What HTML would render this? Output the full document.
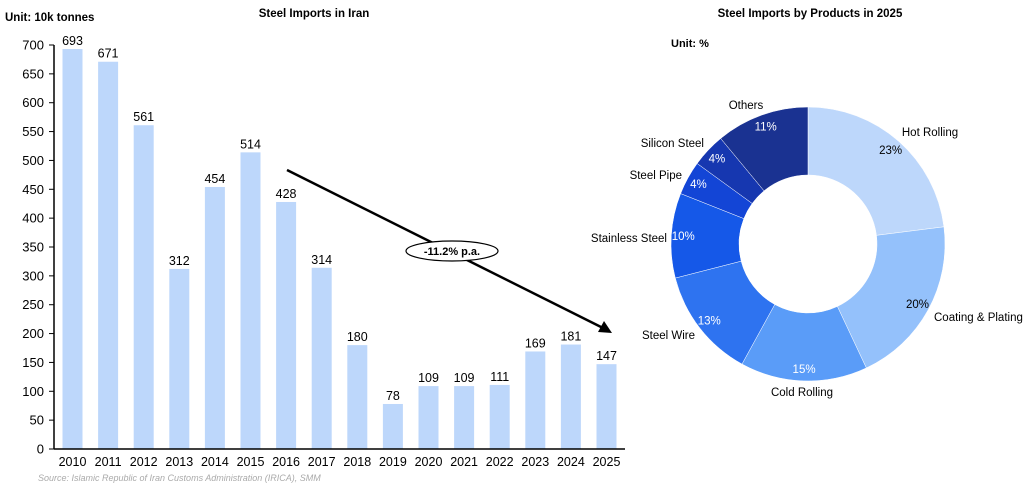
<!DOCTYPE html><html><head><meta charset="utf-8"><style>
body{margin:0;background:#fff;width:1024px;height:487px;overflow:hidden;font-family:"Liberation Sans",Arial,sans-serif}
text{font-family:"Liberation Sans",Arial,sans-serif}
</style></head><body>
<svg id="s" width="1024" height="487" viewBox="0 0 1024 487" xmlns="http://www.w3.org/2000/svg">
<text x="5" y="21" font-size="11.5" font-weight="bold" fill="#000">Unit: 10k tonnes</text>
<text x="314" y="17" font-size="11.5" font-weight="bold" text-anchor="middle">Steel Imports in Iran</text>
<text x="810" y="17" font-size="11.5" font-weight="bold" text-anchor="middle">Steel Imports by Products in 2025</text>
<text x="671" y="47" font-size="11" font-weight="bold">Unit: %</text>
<g id="bars"></g>
<line x1="54" y1="45" x2="54" y2="449" stroke="#000" stroke-width="1.5"/>
<line x1="54" y1="449" x2="625" y2="449" stroke="#000" stroke-width="1.5"/>
<line x1="287" y1="170" x2="603" y2="328" stroke="#000" stroke-width="2.5"/>
<polygon points="612,333 598,332 604,321" fill="#000"/>
<ellipse cx="452" cy="251" rx="46" ry="10" fill="#fff" stroke="#000" stroke-width="1.2"/>
<text x="452" y="255" font-size="11" font-weight="bold" text-anchor="middle">-11.2% p.a.</text>
<text x="38" y="481" font-size="9" font-style="italic" fill="#aaa">Source: Islamic Republic of Iran Customs Administration (IRICA), SMM</text>
<g id="pie"></g>
</svg>
<script>
var ns="http://www.w3.org/2000/svg";
function el(p,t,a,txt){var e=document.createElementNS(ns,t);for(var k in a)e.setAttribute(k,a[k]);if(txt!==undefined)e.textContent=txt;p.appendChild(e);return e;}
var b=document.getElementById('bars');
var v=[693,671,561,312,454,514,428,314,180,78,109,109,111,169,181,147];
function Y(x){return 449-x*404/700;}
for(var i=0;i<=14;i++){var val=i*50,y=Y(val);el(b,'line',{x1:49,y1:y,x2:54,y2:y,stroke:'#000'});el(b,'text',{x:44,y:y+4.5,'font-size':13,'text-anchor':'end'},val);}
for(var i=0;i<16;i++){var cx=72.5+35.6*i;el(b,'rect',{x:cx-10,y:Y(v[i]),width:20,height:449-Y(v[i]),fill:'#bdd7fb'});
el(b,'text',{x:cx,y:Y(v[i])-4,'font-size':12.5,'text-anchor':'middle'},v[i]);
el(b,'text',{x:cx,y:466,'font-size':12.5,'text-anchor':'middle'},2010+i);}
var p=document.getElementById('pie');
var cx=808,cy=244,R=137,r=69;
var d=[[23,'#bdd7fb','Hot Rolling','#000'],[20,'#94c1fb','Coating & Plating','#000'],[15,'#5a9cf8','Cold Rolling','#fff'],[13,'#2e73f0','Steel Wire','#fff'],[10,'#1558e8','Stainless Steel','#fff'],[4,'#1345d6','Steel Pipe','#fff'],[4,'#1637b0','Silicon Steel','#fff'],[11,'#1a3291','Others','#fff']];
var lab=[[930,136,'middle'],[934,321,'start'],[802,396,'middle'],[695,339,'end'],[667,242,'end'],[682,179,'end'],[704,147,'end'],[746,109,'middle']];
var a=0;
for(var i=0;i<d.length;i++){var a0=a*Math.PI*2/100-Math.PI/2;a+=d[i][0];var a1=a*Math.PI*2/100-Math.PI/2;
var lg=(a1-a0)>Math.PI?1:0;
var P=function(rr,t){return (cx+rr*Math.cos(t)).toFixed(2)+','+(cy+rr*Math.sin(t)).toFixed(2);};
el(p,'path',{d:'M'+P(R,a0)+' A'+R+','+R+' 0 '+lg+' 1 '+P(R,a1)+' L'+P(r,a1)+' A'+r+','+r+' 0 '+lg+' 0 '+P(r,a0)+'Z',fill:d[i][1],stroke:'#fff','stroke-width':0.5});
var am=(a0+a1)/2,rm=(R+r)/2+22;
el(p,'text',{x:cx+rm*Math.cos(am),y:cy+rm*Math.sin(am)+4,'font-size':11.5,'text-anchor':'middle',fill:d[i][3]},d[i][0]+'%');
el(p,'text',{x:lab[i][0],y:lab[i][1],'font-size':11.5,'text-anchor':lab[i][2]},d[i][2]);}
</script>
</body></html>
